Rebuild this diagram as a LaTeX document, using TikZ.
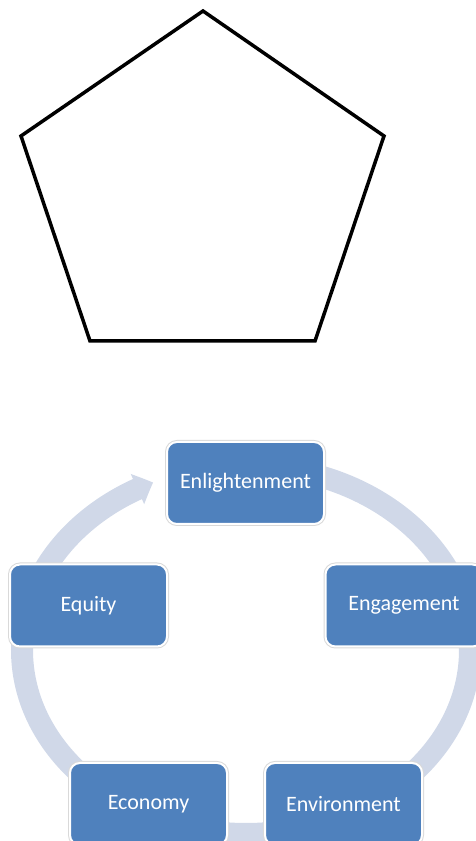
\documentclass[tikz,border=0pt]{standalone}
\usepackage{fontspec}
\setmainfont{Carlito}
\usepackage{xcolor}
\usepackage{tikz}
\usetikzlibrary{arrows.meta,bending,calc}
\definecolor{stageblue}{HTML}{4F81BD}
\definecolor{ringblue}{HTML}{D0D8E8}

\begin{document}
\begin{tikzpicture}[x=1pt, y=1pt,
    stage/.style={rectangle, rounded corners=10pt, fill=stageblue, draw=white, line width=2pt,
        preaction={draw=black!15, line width=4pt},
        minimum width=157pt, minimum height=82pt, text=white, font=\fontsize{22}{26}\selectfont}]
    \useasboundingbox (0,0) rectangle (476,841);
    % pentagon
    \draw[line width=3.5pt] (203,830) -- (384,705) -- (315,500) -- (90,500) -- (21,705) -- cycle;

    % cycle
    \coordinate (c) at (246,191);
    \draw[ringblue, line width=22pt, -{Triangle[width=32pt,length=17pt,bend]}]
        (c) ++(90:224 and 184) arc[start angle=90, end angle=-245.5, x radius=224, y radius=184];
    \foreach \n/\x/\y/\t in {enl/245.5/358/Enlightenment, eng/404/235.5/Engagement,
        env/343.5/37/Environment, eco/148.5/37/Economy, equ/88.5/235.5/Equity} {
        \node[stage] (\n) at (\x,\y) {\t};
    }
\end{tikzpicture}
\end{document}
